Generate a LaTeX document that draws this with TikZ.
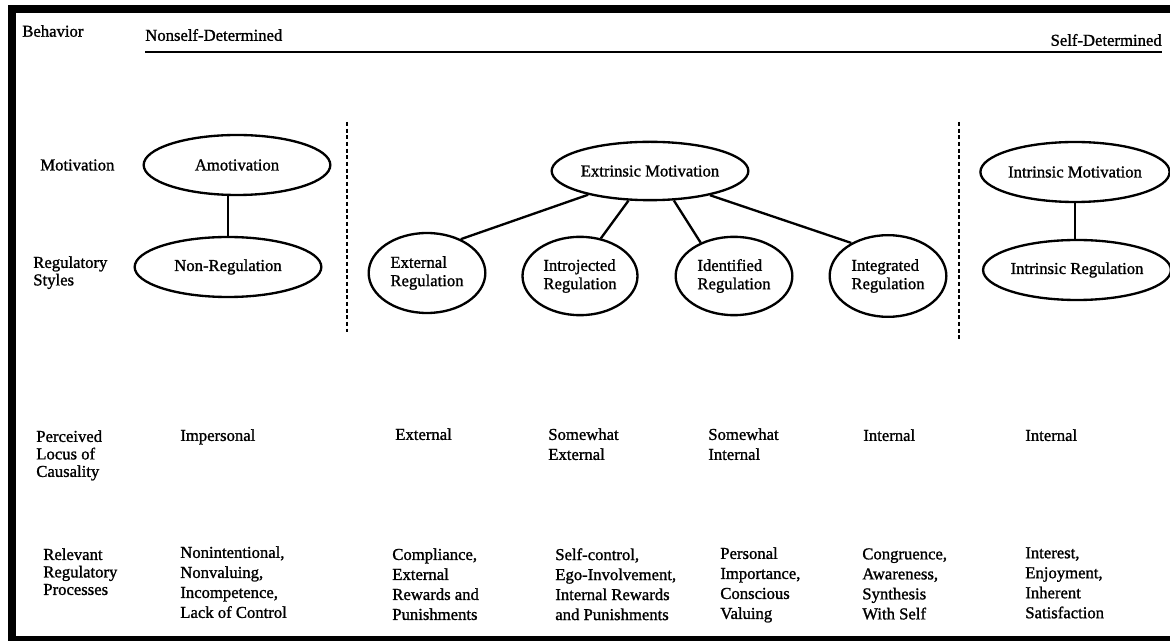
\documentclass[tikz,border=0pt]{standalone}
\usepackage{fontspec}
\setmainfont{Liberation Serif}[FakeBold=1.2]
\usepackage{tikz}
\usetikzlibrary{shapes.geometric,positioning}

\begin{document}
\begin{tikzpicture}[x=0.6pt,y=-0.6pt,
    oval/.style={draw,ellipse,line width=1.4pt,inner sep=0pt,align=center,font=\fontsize{10}{11}\selectfont},
    rowlabel/.style={inner sep=0pt,align=left,font=\fontsize{10}{10.5}\selectfont},
    coltext/.style={inner sep=0pt,align=left,anchor=north west,font=\fontsize{10}{12}\selectfont},
    divider/.style={line width=1pt,dash pattern=on 2.5pt off 1.5pt}]
    \useasboundingbox (0,0) rectangle (1170,642);
    % Frame
    \fill[black] (8,5) rectangle (1170,13);
    \fill[black] (8,5) rectangle (16,641);
    \fill[black] (8,636) rectangle (1170,641);
    % Behavior scale
    \node[rowlabel,anchor=west] (behav) at (22,31) {Behavior};
    \node[rowlabel,anchor=west] (nonself) at (145,35) {Nonself-Determined};
    \node[rowlabel,anchor=east] (self) at (1162,40) {Self-Determined};
    \coordinate (scaleL) at (145,52);
    \coordinate (scaleR) at (1162,52);
    \draw[line width=1.5pt] (scaleL) -- (scaleR);
    % Row labels
    \node[rowlabel,anchor=west] (motiv) at (40,165) {Motivation};
    \node[rowlabel,anchor=north west] (regsty) at (33,256) {Regulatory\\Styles};
    \node[rowlabel,anchor=north west] (locus) at (36,430) {Perceived\\Locus of\\Causality};
    \node[rowlabel,anchor=north west] (relproc) at (43,548) {Relevant\\Regulatory\\Processes};
    % Motivation ovals
    \node[oval,minimum width=112pt,minimum height=36pt] (amot) at (237,165) {Amotivation};
    \node[oval,minimum width=112pt,minimum height=36pt] (nonreg) at (228,267) {Non-Regulation};
    \node[oval,minimum width=118pt,minimum height=35pt] (extmot) at (650,171) {Extrinsic Motivation};
    \node[oval,minimum width=112pt,minimum height=36pt] (intmot) at (1075,172) {Intrinsic Motivation};
    \node[oval,minimum width=111pt,minimum height=36pt] (intreg) at (1077,270) {Intrinsic Regulation};
    % Regulation ovals
    \node[oval,align=left,minimum width=70pt,minimum height=48pt] (extreg) at (427,273) {External\\Regulation};
    \node[oval,align=left,minimum width=69pt,minimum height=47pt] (introreg) at (580,276) {Introjected\\Regulation};
    \node[oval,align=left,minimum width=70pt,minimum height=47pt] (identreg) at (734,276) {Identified\\Regulation};
    \node[oval,align=left,minimum width=70pt,minimum height=49pt] (integreg) at (888,276) {Integrated\\Regulation};
    % Connectors
    \draw[line width=1.4pt] (nonreg.north |- amot.south) -- (nonreg.north);
    \draw[line width=1.4pt] (intmot.south) -- (intmot.south |- intreg.north);
    \draw[line width=1.4pt] (extmot.201) -- (extreg.45);
    \draw[line width=1.4pt] (extmot.234) -- (introreg.61);
    \draw[line width=1.4pt] (extmot.309) -- (identreg.135);
    \draw[line width=1.4pt] (extmot.338) -- (integreg.138);
    % Dividers
    \coordinate (divAt) at (347,122);
    \coordinate (divAb) at (347,332);
    \coordinate (divBt) at (959,122);
    \coordinate (divBb) at (959,340);
    \draw[divider] (divAt) -- (divAb);
    \draw[divider] (divBt) -- (divBb);
    % Perceived locus of causality
    \node[coltext] (impers) at (180,429) {Impersonal};
    \node[coltext] (plext) at (395,428) {External};
    \node[coltext] (plswext) at (548,428) {Somewhat\\External};
    \node[coltext] (plswint) at (708,428) {Somewhat\\Internal};
    \node[coltext] (plint) at (863,429) {Internal};
    \node[coltext] (plintr) at (1025,429) {Internal};
    % Relevant regulatory processes
    \node[coltext] (rpamot) at (180,546) {Nonintentional,\\Nonvaluing,\\Incompetence,\\Lack of Control};
    \node[coltext] (rpext) at (392,548) {Compliance,\\External\\Rewards and\\Punishments};
    \node[coltext] (rpintro) at (555,548) {Self-control,\\Ego-Involvement,\\Internal Rewards\\and Punishments};
    \node[coltext] (rpident) at (720,547) {Personal\\Importance,\\Conscious\\Valuing};
    \node[coltext] (rpinteg) at (862,548) {Congruence,\\Awareness,\\Synthesis\\With Self};
    \node[coltext] (rpintr) at (1025,547) {Interest,\\Enjoyment,\\Inherent\\Satisfaction};
\end{tikzpicture}
\end{document}
